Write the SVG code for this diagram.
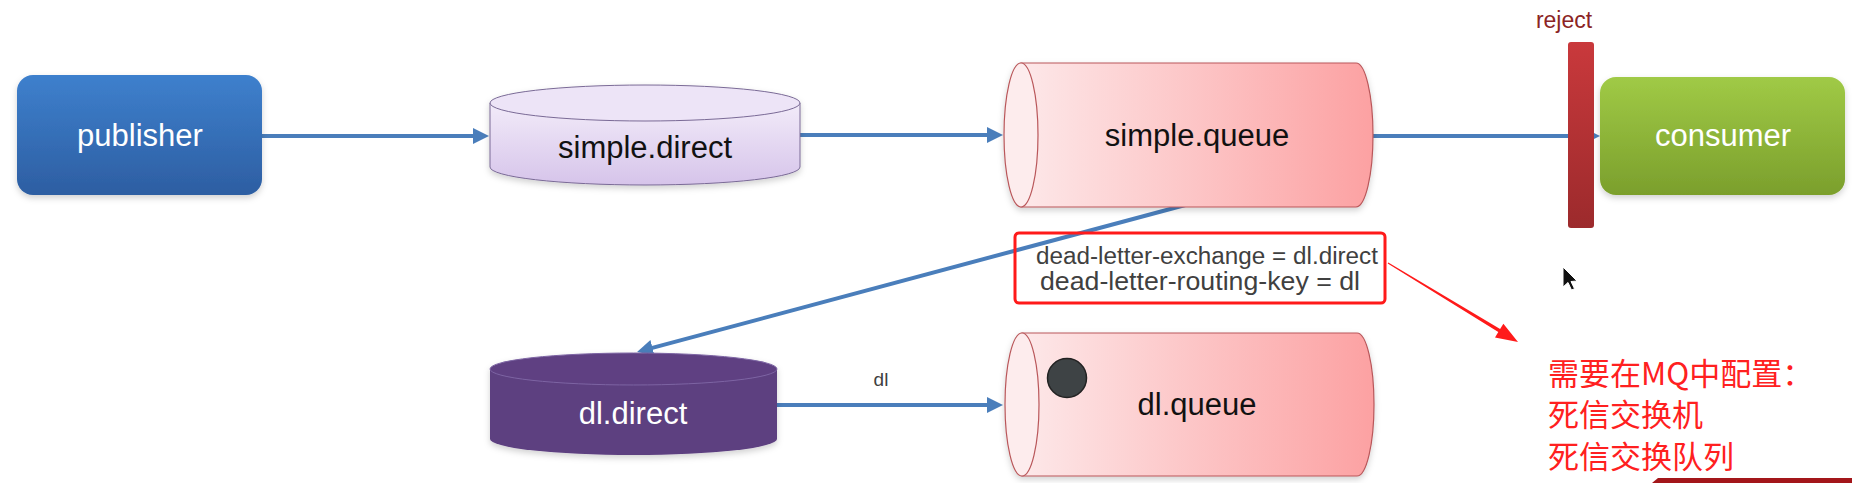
<svg xmlns="http://www.w3.org/2000/svg" width="1852" height="483" viewBox="0 0 1852 483">
<style>
  .lbl { font-family: "Liberation Sans", "Noto Sans", Arial, sans-serif; font-size: 31px; text-anchor: middle; }
  .white { fill: #ffffff; }
  .dark { fill: #111111; }
  .conn { stroke: #4a7ebb; stroke-width: 4; fill: none; marker-end: url(#arrow); }
  .note { font-family: "Liberation Sans", "Noto Sans", Arial, sans-serif; fill: #404040; }
  .cn { font-family: "Noto Sans CJK SC", "Noto Sans", sans-serif; font-size: 31px; fill: #ff2020; }
  .qstroke { stroke: #b9575a; stroke-width: 1.2; }
</style>
<defs>
  <linearGradient id="gPub" x1="0" y1="0" x2="0" y2="1">
    <stop offset="0" stop-color="#3e80cd"/>
    <stop offset="1" stop-color="#2d5ea2"/>
  </linearGradient>
  <linearGradient id="gCon" x1="0" y1="0" x2="0" y2="1">
    <stop offset="0" stop-color="#a0ca46"/>
    <stop offset="1" stop-color="#7b9f2c"/>
  </linearGradient>
  <linearGradient id="gEx" x1="0" y1="0" x2="0" y2="1">
    <stop offset="0" stop-color="#f2ebf9"/>
    <stop offset="1" stop-color="#d6c4ea"/>
  </linearGradient>
  <linearGradient id="gQ" x1="0" y1="0" x2="1" y2="0">
    <stop offset="0" stop-color="#fde8e9"/>
    <stop offset="1" stop-color="#fca1a2"/>
  </linearGradient>
  <linearGradient id="gRej" x1="0" y1="0" x2="0" y2="1">
    <stop offset="0" stop-color="#c9393c"/>
    <stop offset="1" stop-color="#9c2a2c"/>
  </linearGradient>
  <filter id="sh" x="-10%" y="-10%" width="120%" height="130%">
    <feDropShadow dx="0" dy="3" stdDeviation="3" flood-color="#000" flood-opacity="0.18"/>
  </filter>
  <marker id="arrow" viewBox="0 0 10 10" refX="3.75" refY="5" markerWidth="4" markerHeight="4" markerUnits="strokeWidth" orient="auto">
    <path d="M0,0 L10,5 L0,10 z" fill="#4a7ebb"/>
  </marker>
</defs>

<g id="connectors">
  <line class="conn" x1="262" y1="136" x2="479" y2="136"/>
  <line class="conn" x1="800" y1="135" x2="993" y2="135"/>
  <line class="conn" x1="1373" y1="136" x2="1590" y2="136"/>
  <line class="conn" x1="1189" y1="204" x2="646.7" y2="349.4"/>
  <line class="conn" x1="777" y1="405" x2="993" y2="405"/>
  <text class="note" x="881" y="386" font-size="19" text-anchor="middle" fill="#333">dl</text>
</g>

<g id="publisher">
  <rect x="17" y="75" width="245" height="120" rx="16" fill="url(#gPub)" filter="url(#sh)"/>
  <text class="lbl white" x="140" y="146">publisher</text>
</g>

<g id="simple-direct">
  <g filter="url(#sh)">
    <path d="M490,103 L490,167 A155,18 0 0 0 800,167 L800,103 Z" fill="url(#gEx)" stroke="#7a6a96" stroke-width="1"/>
    <ellipse cx="645" cy="103" rx="155" ry="18" fill="#ede4f7" stroke="#7a6a96" stroke-width="1"/>
  </g>
  <text class="lbl dark" x="645" y="158">simple.direct</text>
</g>

<g id="simple-queue">
  <g filter="url(#sh)">
    <path class="qstroke" d="M1021,63 L1356,63 A17,72 0 0 1 1356,207 L1021,207 Z" fill="url(#gQ)"/>
    <ellipse class="qstroke" cx="1021" cy="135" rx="17" ry="72" fill="#fdeced"/>
  </g>
  <text class="lbl dark" x="1197" y="146">simple.queue</text>
</g>

<g id="reject">
  <rect x="1568" y="42" width="26" height="186" rx="3" fill="url(#gRej)"/>
  <text x="1564" y="28" font-family="Liberation Sans, Noto Sans, Arial, sans-serif" font-size="23" text-anchor="middle" fill="#8b2424">reject</text>
</g>

<g id="consumer">
  <rect x="1600" y="77" width="245" height="118" rx="16" fill="url(#gCon)" filter="url(#sh)"/>
  <text class="lbl white" x="1723" y="146">consumer</text>
</g>

<g id="dl-config">
  <rect x="1015" y="233" width="370" height="70" rx="4" fill="none" stroke="#ff1a1a" stroke-width="3"/>
  <text class="note" x="1036" y="264" font-size="23" textLength="342" lengthAdjust="spacingAndGlyphs">dead-letter-exchange = dl.direct</text>
  <text class="note" x="1040" y="290" font-size="25" textLength="320" lengthAdjust="spacingAndGlyphs">dead-letter-routing-key = dl</text>
</g>

<g id="dl-direct">
  <g filter="url(#sh)">
    <path d="M490,369 L490,439 A143.5,16 0 0 0 777,439 L777,369 Z" fill="#5d3f80"/>
    <ellipse cx="633.5" cy="369" rx="143.5" ry="16" fill="#5e4182" stroke="#7d64a3" stroke-width="1"/>
  </g>
  <text class="lbl white" x="633" y="424">dl.direct</text>
</g>

<g id="dl-queue">
  <g filter="url(#sh)">
    <path class="qstroke" d="M1022,333 L1357,333 A17,71.5 0 0 1 1357,476 L1022,476 Z" fill="url(#gQ)"/>
    <ellipse class="qstroke" cx="1022" cy="404.5" rx="17" ry="71.5" fill="#fdeced"/>
  </g>
  <circle cx="1067" cy="378" r="19.5" fill="#3e4345" stroke="#222" stroke-width="1.5"/>
  <text class="lbl dark" x="1197" y="415">dl.queue</text>
</g>

<g id="annotation">
  <polygon points="1387.7,263.4 1498.3,332.1 1495.0,337.4 1518,342 1503.4,323.8 1500.1,329.1 1388.3,262.6" fill="#ff1a1a"/>
  <text class="cn" x="1548" y="385">需要在MQ中配置：</text>
  <text class="cn" x="1548" y="426">死信交换机</text>
  <text class="cn" x="1548" y="468">死信交换队列</text>
</g>

<g id="cursor">
  <polygon points="1563,267 1563,287 1568,282.5 1571.5,290 1574.5,288.7 1571,281.5 1577,281" fill="#111" stroke="#fff" stroke-width="1"/>
</g>
<polygon points="1652,483 1658,478 1852,478 1852,483" fill="#a3161a"/>
</svg>
